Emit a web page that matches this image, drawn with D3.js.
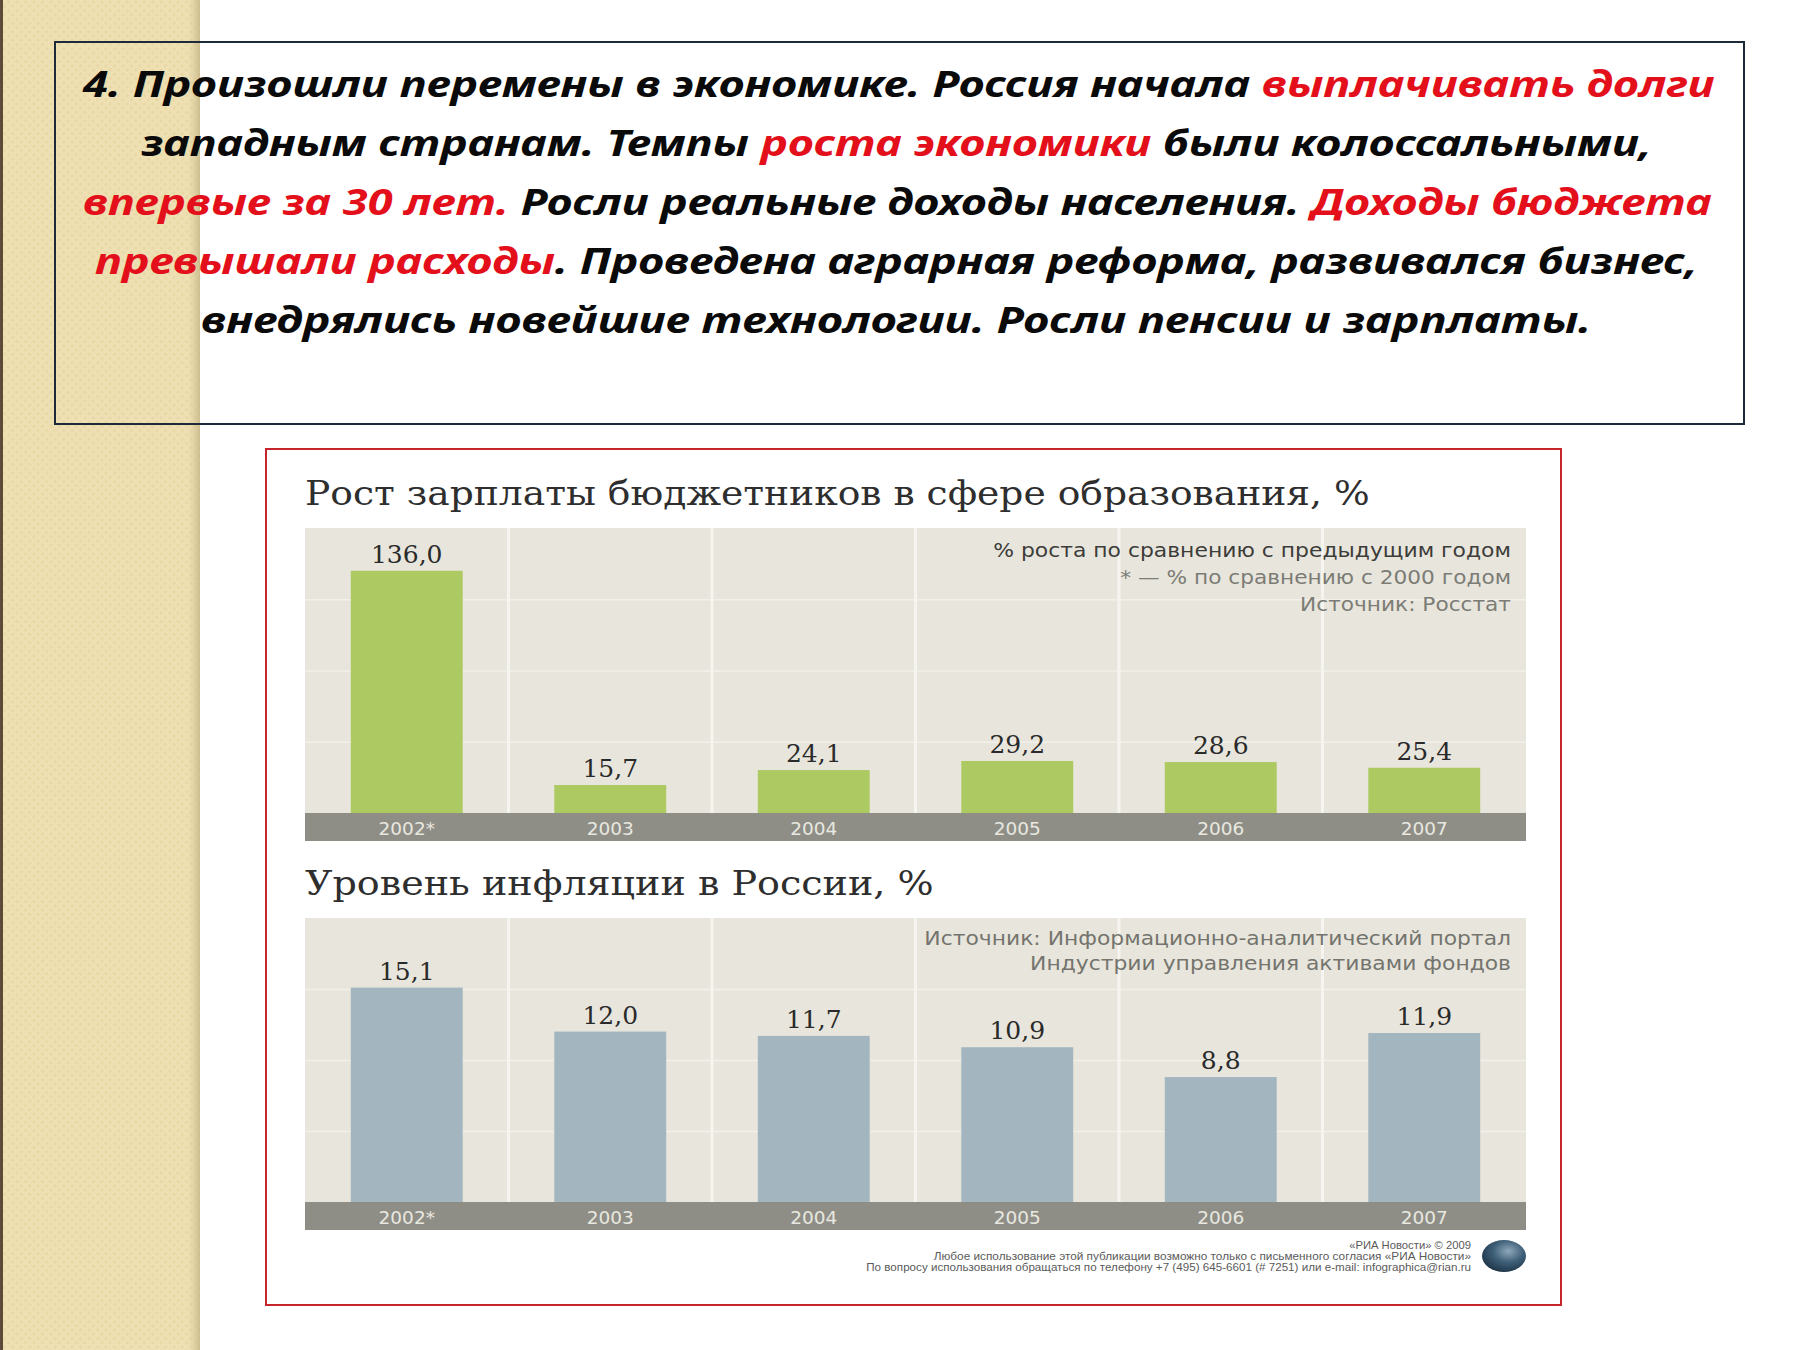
<!DOCTYPE html>
<html><head><meta charset="utf-8">
<script src="https://cdn.jsdelivr.net/npm/d3@7"></script>
<style>body{margin:0;background:#fff} svg{display:block} text{white-space:pre}</style>
</head><body>
<svg id="c" width="1800" height="1350"></svg>
<script>
// ---------- data ----------
const years = ["2002*", "2003", "2004", "2005", "2006", "2007"];
const salaryGrowth = [136.0, 15.7, 24.1, 29.2, 28.6, 25.4];
const inflation = [15.1, 12.0, 11.7, 10.9, 8.8, 11.9];
const salaryDomain = [0, 160];
const inflationDomain = [0, 20];
const salaryGrid = [40, 80, 120];
const inflationGrid = [5, 10, 15];
const salaryTitle = "Рост зарплаты бюджетников в сфере образования, %";
const inflationTitle = "Уровень инфляции в России, %";
const salaryNotes = ["% роста по сравнению с предыдущим годом", "* — % по сравнению с 2000 годом", "Источник: Росстат"];
const inflationNotes = ["Источник: Информационно-аналитический портал", "Индустрии управления активами фондов"];
const footerLines = ["«РИА Новости» © 2009",
  "Любое использование этой публикации возможно только с письменного согласия «РИА Новости»",
  "По вопросу использования обращаться по телефону +7 (495) 645-6601 (# 7251) или e-mail: infographica@rian.ru"];
const paragraph = [
  [["4. Произошли перемены в экономике. Россия начала ", 0], ["выплачивать долги", 1]],
  [["западным странам. Темпы ", 0], ["роста экономики", 1], [" были колоссальными,", 0]],
  [["впервые за 30 лет.", 1], [" Росли реальные доходы населения. ", 0], ["Доходы бюджета", 1]],
  [["превышали расходы", 1], [". Проведена аграрная реформа, развивался бизнес,", 0]],
  [["внедрялись новейшие технологии. Росли пенсии и зарплаты.", 0]]
];
const fmt = v => v.toFixed(1).replace(".", ",");

// ---------- setup ----------
const svg = d3.select("#c");
const defs = svg.append("defs");
const pat = defs.append("pattern").attr("id", "tex").attr("width", 6).attr("height", 6)
  .attr("patternUnits", "userSpaceOnUse").attr("patternTransform", "rotate(45)");
pat.append("rect").attr("width", 6).attr("height", 6).attr("fill", "#eee0b3");
pat.append("rect").attr("width", 3).attr("height", 3).attr("fill", "#e8d9a7");
const sh = defs.append("linearGradient").attr("id", "shade");
sh.append("stop").attr("offset", "0").attr("stop-color", "#d8c99c").attr("stop-opacity", 0);
sh.append("stop").attr("offset", "1").attr("stop-color", "#c9b98a").attr("stop-opacity", 0.9);
const lg = defs.append("radialGradient").attr("id", "globe").attr("cx", "0.6").attr("cy", "0.35").attr("r", "0.7");
lg.append("stop").attr("offset", "0").attr("stop-color", "#8fa8bb");
lg.append("stop").attr("offset", "0.5").attr("stop-color", "#3e5f78");
lg.append("stop").attr("offset", "1").attr("stop-color", "#1e3346");

svg.append("rect").attr("width", 1800).attr("height", 1350).attr("fill", "#ffffff");
// left decorative strip
svg.append("rect").attr("x", 0).attr("y", 0).attr("width", 200).attr("height", 1350).attr("fill", "url(#tex)");
svg.append("rect").attr("x", 188).attr("y", 0).attr("width", 12).attr("height", 1350).attr("fill", "url(#shade)");
svg.append("rect").attr("x", 0).attr("y", 0).attr("width", 3).attr("height", 1350).attr("fill", "#5e4a38");

// helper: fit text horizontally
function fit(sel, target) {
  const w = sel.node().getComputedTextLength();
  return w > 0 ? target / w : 1;
}

// ---------- text box ----------
svg.append("rect").attr("x", 55).attr("y", 42).attr("width", 1689).attr("height", 382)
  .attr("fill", "none").attr("stroke", "#1c2a3a").attr("stroke-width", 2);
const lineGeom = [[83, 1632, 97], [141, 1511, 156], [83, 1629, 215], [95, 1603, 274], [201, 1391, 333]];
paragraph.forEach((parts, i) => {
  const [lx, w, by] = lineGeom[i];
  const t = svg.append("text").attr("x", 0).attr("y", 0)
    .attr("font-family", "'Noto Sans', 'DejaVu Sans', sans-serif").attr("font-weight", "bold")
    .attr("font-style", "italic").attr("font-size", 36);
  parts.forEach(([s, red]) => t.append("tspan").text(s).attr("fill", red ? "#e3101b" : "#0a0a0a"));
  const s = fit(t, w);
  t.attr("transform", `translate(${lx},${by}) scale(${s},1)`);
});

// ---------- red frame ----------
svg.append("rect").attr("x", 266).attr("y", 449).attr("width", 1295).attr("height", 856)
  .attr("fill", "#ffffff").attr("stroke", "#c5262e").attr("stroke-width", 2);

// ---------- charts ----------
const X0 = 305, X1 = 1526;
const x = d3.scaleBand().domain(years).range([X0, X1]).padding(0);
const bw = x.bandwidth() * 0.55;

function drawChart(cfg) {
  const y = d3.scaleLinear().domain(cfg.domain).range([cfg.base, cfg.top]);
  const g = svg.append("g");
  // title
  const tt = g.append("text").text(cfg.title).attr("font-family", "'DejaVu Serif', serif")
    .attr("font-size", 33).attr("fill", "#2e2e2e");
  tt.attr("transform", `translate(${X0},${cfg.titleY}) scale(${fit(tt, cfg.titleW)},1)`);
  // plot bg
  g.append("rect").attr("x", X0).attr("y", cfg.top).attr("width", X1 - X0).attr("height", cfg.base - cfg.top)
    .attr("fill", "#e8e6dc");
  // horizontal grid via axis
  const gy = g.append("g").attr("transform", `translate(${X0},0)`)
    .call(d3.axisLeft(y).tickValues(cfg.grid).tickSize(-(X1 - X0)).tickFormat(""));
  gy.select(".domain").remove();
  gy.selectAll("line").attr("stroke", "#f1f0ea").attr("stroke-width", 1.5);
  // vertical separators
  g.selectAll("line.vsep").data(years.slice(1)).join("line").attr("class", "vsep")
    .attr("x1", d => x(d)).attr("x2", d => x(d)).attr("y1", cfg.top).attr("y2", cfg.base)
    .attr("stroke", "#f5f4ef").attr("stroke-width", 3);
  // notes
  cfg.notes.forEach((n, i) => {
    const t = g.append("text").text(n).attr("font-family", "'DejaVu Sans', sans-serif")
      .attr("font-size", 19).attr("fill", cfg.noteColors[i]).attr("text-anchor", "end");
    const s = fit(t, cfg.noteW[i]);
    t.attr("transform", `translate(1511,${cfg.noteY[i]}) scale(${s},1)`);
  });
  // bars
  g.selectAll("rect.bar").data(cfg.values).join("rect").attr("class", "bar")
    .attr("x", (d, i) => x(years[i]) + (x.bandwidth() - bw) / 2)
    .attr("width", bw)
    .attr("y", d => y(d)).attr("height", d => y(0) - y(d))
    .attr("fill", cfg.color);
  // value labels
  g.selectAll("text.val").data(cfg.values).join("text").attr("class", "val")
    .attr("x", (d, i) => x(years[i]) + x.bandwidth() / 2)
    .attr("y", d => y(d) - 8)
    .attr("text-anchor", "middle").attr("font-family", "'DejaVu Serif', serif")
    .attr("font-size", 25).attr("fill", "#2a2a2a").text(fmt);
  // year band
  g.append("rect").attr("x", X0).attr("y", cfg.base).attr("width", X1 - X0).attr("height", 28)
    .attr("fill", "#8f8e86");
  const ax = g.append("g").attr("transform", `translate(0,${cfg.base})`)
    .call(d3.axisBottom(x).tickSize(0).tickPadding(0));
  ax.select(".domain").remove();
  ax.selectAll("text").attr("y", 22).attr("dy", null)
    .attr("font-family", "'DejaVu Sans', sans-serif").attr("font-size", 18.5).attr("fill", "#e8e8e0");
}

drawChart({
  title: salaryTitle, titleY: 505, titleW: 1065,
  top: 528, base: 813, domain: salaryDomain, grid: salaryGrid,
  values: salaryGrowth, color: "#adc962",
  notes: salaryNotes, noteY: [557, 584, 611], noteW: [518, 391, 211],
  noteColors: ["#3c3c3a", "#7c7c76", "#7c7c76"]
});
drawChart({
  title: inflationTitle, titleY: 895, titleW: 629,
  top: 918, base: 1202, domain: inflationDomain, grid: inflationGrid,
  values: inflation, color: "#a3b5bf",
  notes: inflationNotes, noteY: [945, 970], noteW: [587, 481],
  noteColors: ["#74746e", "#74746e"]
});

// ---------- footer ----------
const footW = [122, 538, 605];
const footY = [1249, 1260, 1271];
footerLines.forEach((l, i) => {
  const t = svg.append("text").text(l).attr("font-family", "'Liberation Sans', Arial, sans-serif")
    .attr("font-size", 10.5).attr("fill", "#5a5a5a").attr("text-anchor", "end");
  t.attr("transform", `translate(1471,${footY[i]}) scale(${fit(t, footW[i])},1)`);
});
svg.append("ellipse").attr("cx", 1504).attr("cy", 1256).attr("rx", 22).attr("ry", 16).attr("fill", "url(#globe)");
</script>
</body></html>
